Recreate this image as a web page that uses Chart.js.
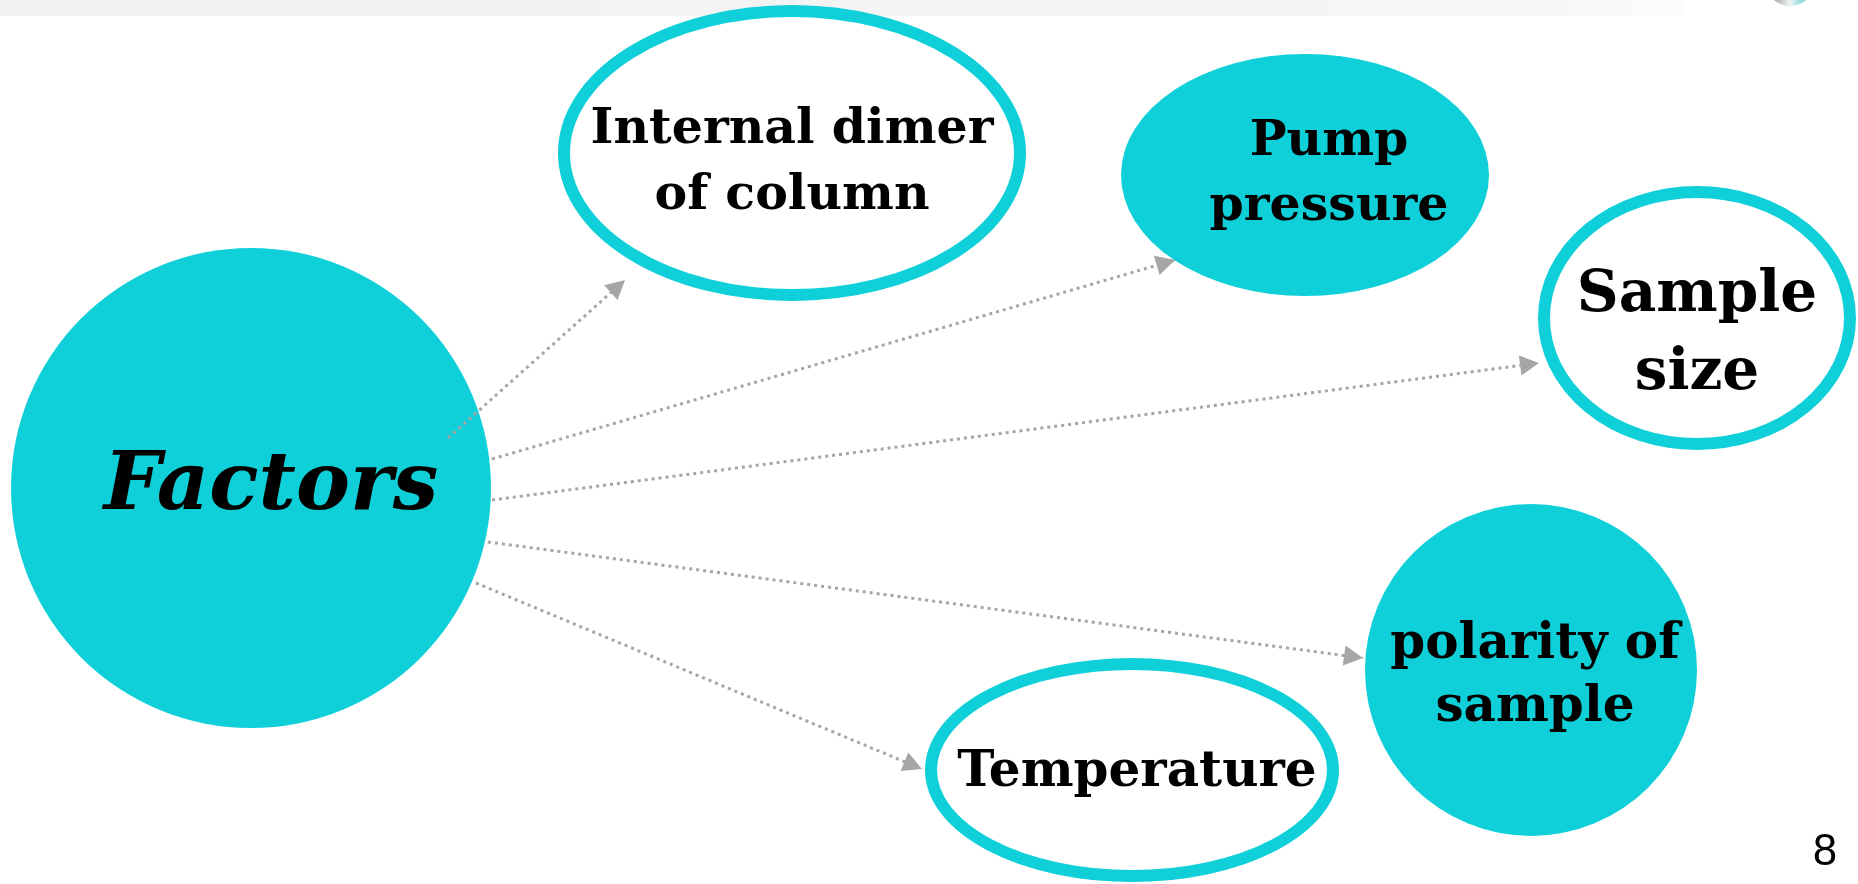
<!DOCTYPE html>
<html>
<head>
<meta charset="utf-8">
<script src="https://cdn.jsdelivr.net/npm/chart.js@4.4.1/dist/chart.umd.min.js"></script>
<style>
  html, body { margin: 0; padding: 0; background: #fff; overflow: hidden; }
  #wrap { position: relative; width: 1858px; height: 884px; }
</style>
</head>
<body>
<div id="wrap"><canvas id="factorsChart"></canvas></div>
<script>
/* ── بيانات المخطط (وحدات الصورة الأصلية) ── */
const nodeLabels = [
  ['Factors'],
  ['Internal dimer', 'of column'],
  ['Pump', 'pressure'],
  ['Sample', 'size'],
  ['polarity of', 'sample'],
  ['Temperature'],
];
const nodeKind = ['filled', 'outline', 'filled', 'outline', 'filled', 'outline'];
const nodeX    = [251, 792, 1305, 1697, 1531, 1132];
const nodeY    = [488, 153,  175,  318,  670,  770];
const nodeRx   = [240, 228,  184,  153,  166,  201];
const nodeRy   = [240, 142,  121,  126,  166,  106];

/* الأسهم: كلها تخرج من Factors */
const arrowTo = [1, 2, 3, 4, 5];
const arrowX0 = [448,  492,  492,  488, 476];
const arrowY0 = [438,  459,  500,  542, 583];
const arrowX1 = [625, 1175, 1539, 1363, 922];
const arrowY1 = [280,  260,  363,  658, 769];

const pageNumber = '8';

/* ── الأنماط ── */
const CYAN  = '#0fd0d9';
const GREY  = '#a6a6a6';
const labelStyle = [
  { font: 'italic bold 81px "DejaVu Serif"', dx: 20, dy: 0 },
  { font: 'bold 49px "DejaVu Serif"',        dx: 0,  dy: 10 },
  { font: 'bold 49px "DejaVu Serif"',        dx: 24, dy: 0 },
  { font: 'bold 58px "DejaVu Serif"',        dx: 0,  dy: 17 },
  { font: 'bold 50px "DejaVu Serif"',        dx: 4,  dy: 7 },
  { font: 'bold 50px "DejaVu Serif"',        dx: 5,  dy: 3 },
];
const lineGap = [0, 66, 65, 78, 63, 0];

/* ─── رسم الأشكال البيضاوية ─────────────────────────── */
const shapesPlugin = {
  id: 'shapes',
  beforeDatasetsDraw(chart) {
    const { ctx, scales: { x, y } } = chart;
    ctx.save();

    /* شريط علوي رمادي فاتح */
    const barGrad = ctx.createLinearGradient(0, 0, x.getPixelForValue(1700), 0);
    barGrad.addColorStop(0, '#f1f1f1');
    barGrad.addColorStop(0.9, '#f6f6f6');
    barGrad.addColorStop(1, '#fdfdfd');
    ctx.fillStyle = barGrad;
    ctx.fillRect(0, 0, x.getPixelForValue(1686), y.getPixelForValue(16));

    /* أيقونة صغيرة أعلى اليمين */
    ctx.beginPath();
    ctx.ellipse(x.getPixelForValue(1790), y.getPixelForValue(-14), 22, 20, 0, 0, Math.PI * 2);
    const ig = ctx.createLinearGradient(1768, 0, 1812, 0);
    ig.addColorStop(0, '#8a8a8a');
    ig.addColorStop(0.5, '#eef4f4');
    ig.addColorStop(1, '#3cc7cf');
    ctx.fillStyle = ig;
    ctx.fill();

    nodeX.forEach((nx, i) => {
      const cx = x.getPixelForValue(nx);
      const cy = y.getPixelForValue(nodeY[i]);
      const rx = Math.abs(x.getPixelForValue(nx + nodeRx[i]) - cx);
      const ry = Math.abs(y.getPixelForValue(nodeY[i] + nodeRy[i]) - cy);
      ctx.beginPath();
      ctx.ellipse(cx, cy, rx, ry, 0, 0, Math.PI * 2);
      if (nodeKind[i] === 'filled') {
        ctx.fillStyle = CYAN;
        ctx.fill();
      } else {
        ctx.fillStyle = '#fff';
        ctx.fill();
        ctx.lineWidth   = 12;
        ctx.strokeStyle = CYAN;
        ctx.stroke();
      }
    });
    ctx.restore();
  },

  /* ─── رؤوس الأسهم والنصوص ─── */
  afterDatasetsDraw(chart) {
    const { ctx, scales: { x, y } } = chart;
    ctx.save();

    arrowTo.forEach((_, i) => {
      const x0 = x.getPixelForValue(arrowX0[i]), y0 = y.getPixelForValue(arrowY0[i]);
      const x1 = x.getPixelForValue(arrowX1[i]), y1 = y.getPixelForValue(arrowY1[i]);
      const a  = Math.atan2(y1 - y0, x1 - x0);
      const len = 19, half = 10;
      ctx.beginPath();
      ctx.moveTo(x1, y1);
      ctx.lineTo(x1 - len * Math.cos(a) + half * Math.sin(a), y1 - len * Math.sin(a) - half * Math.cos(a));
      ctx.lineTo(x1 - len * Math.cos(a) - half * Math.sin(a), y1 - len * Math.sin(a) + half * Math.cos(a));
      ctx.closePath();
      ctx.fillStyle = GREY;
      ctx.fill();
    });

    ctx.fillStyle    = '#000';
    ctx.textAlign    = 'center';
    ctx.textBaseline = 'middle';
    nodeLabels.forEach((lines, i) => {
      const st = labelStyle[i];
      const cx = x.getPixelForValue(nodeX[i]) + st.dx;
      const cy = y.getPixelForValue(nodeY[i]) + st.dy;
      ctx.font = st.font;
      const top = cy - (lines.length - 1) * lineGap[i] / 2;
      lines.forEach((t, k) => ctx.fillText(t, cx, top + k * lineGap[i]));
    });

    /* رقم الشريحة */
    ctx.font = '44px "Liberation Sans", Arial, sans-serif';
    ctx.fillText(pageNumber, x.getPixelForValue(1825), y.getPixelForValue(853));
    ctx.restore();
  },
};

const arrowSets = arrowTo.map((_, i) => ({
  label      : nodeLabels[arrowTo[i]].join(' '),
  data       : [{ x: arrowX0[i], y: arrowY0[i] }, { x: arrowX1[i], y: arrowY1[i] }],
  showLine   : true,
  borderColor: GREY,
  borderWidth: 3,
  borderDash : [3, 4],
  pointRadius: 0,
}));

new Chart(document.getElementById('factorsChart'), {
  type: 'scatter',
  data: { datasets: arrowSets },
  options: {
    responsive         : true,
    maintainAspectRatio: false,
    animation          : false,
    events             : [],
    layout: { padding: 0 },
    plugins: { legend: { display: false }, tooltip: { enabled: false } },
    scales: {
      x: { type: 'linear', min: 0, max: 1858, display: false },
      y: { type: 'linear', min: 0, max: 884, reverse: true, display: false },
    },
  },
  plugins: [shapesPlugin],
});
</script>
</body>
</html>
